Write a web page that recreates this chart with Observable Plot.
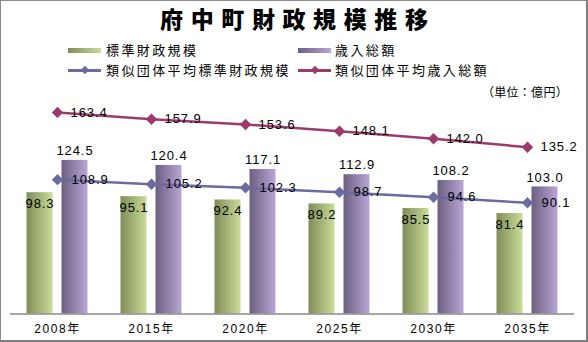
<!DOCTYPE html>
<html>
<head>
<meta charset="utf-8">
<script src="https://cdn.jsdelivr.net/npm/d3@7"></script>
<script src="https://cdn.jsdelivr.net/npm/@observablehq/plot@0.6"></script>
<style>
  html, body { margin: 0; padding: 0; background: #fff; }
  #wrap { position: relative; width: 588px; height: 342px; overflow: hidden; background: #fff;
          font-family: "Noto Sans CJK JP", "Liberation Sans", sans-serif; }
  #frame { position: absolute; left: 0; top: 0; width: 588px; height: 342px; box-sizing: border-box;
           border-top: 1px solid #8c8c8c; border-left: 1px solid #8c8c8c;
           border-right: 2px solid #7f7f7f; border-bottom: 2px solid #7f7f7f; pointer-events: none; }
  #plot { position: absolute; left: 0; top: 0; }
  .abs { position: absolute; white-space: nowrap; }
  #title { left: 0; width: 588px; top: 4px; height: 28px; line-height: 28px; text-align: center;
           font-size: 23px; font-weight: 900; letter-spacing: 7.6px; color: #000; text-indent: 7.6px; }
  .legtext { font-size: 13px; letter-spacing: 2.4px; line-height: 16px; height: 16px; color: #000; }
  .sw { position: absolute; height: 5px; }
  .ln { position: absolute; height: 3px; }
  .dm { position: absolute; width: 6px; height: 6px; transform: rotate(45deg); }
  #unit { font-size: 12px; letter-spacing: 0.3px; line-height: 14px; color: #000; }
</style>
</head>
<body>
<div id="wrap">
  <div id="plot"></div>
  <div id="title" class="abs">府中町財政規模推移</div>
  <div id="legend"></div>
  <div id="unit" class="abs"></div>
  <div id="frame"></div>
</div>
<script>
// ---- data ----
const years = ["2008", "2015", "2020", "2025", "2030", "2035"];
const yearSuffix = "年";
const standardScale = [98.3, 95.1, 92.4, 89.2, 85.5, 81.4];        // 標準財政規模
const totalRevenue = [124.5, 120.4, 117.1, 112.9, 108.2, 103.0];    // 歳入総額
const similarStandard = [108.9, 105.2, 102.3, 98.7, 94.6, 90.1];    // 類似団体平均標準財政規模
const similarRevenue = [163.4, 157.9, 153.6, 148.1, 142.0, 135.2];  // 類似団体平均歳入総額
const seriesNames = ["標準財政規模", "歳入総額", "類似団体平均標準財政規模", "類似団体平均歳入総額"];
const unitLabel = "（単位：億円）";

// ---- styles ----
const greenDark = "#7f8d58", greenLight = "#c9dc98";
const purpleDark = "#6c5f80", purpleLight = "#b9a6d6";
const blueLine = "#6b6b9f", maroonLine = "#9e3a6b";

const rows = years.map((y, i) => ({
  year: y,
  std: standardScale[i], rev: totalRevenue[i],
  simStd: similarStandard[i], simRev: similarRevenue[i]
}));

const numFont = "'Liberation Sans', Arial, 'Noto Sans CJK JP', sans-serif";
const pi = 1 - 26 / 94;

const chart = Plot.plot({
  width: 588,
  height: 342,
  marginLeft: 10,
  marginRight: 14,
  marginTop: 91.4,
  marginBottom: 28.5,
  style: { fontFamily: numFont, fontSize: "13px", color: "#000", background: "transparent", overflow: "visible" },
  x: { domain: years, paddingInner: pi, paddingOuter: pi / 2, label: null },
  y: { domain: [0, 180], axis: null },
  marks: [
    Plot.barY(rows, { x: "year", y: "std", dx: -17.5, fill: "url(#gGreen)" }),
    Plot.barY(rows, { x: "year", y: "rev", dx: 17.5, fill: "url(#gPurple)" }),
    Plot.ruleY([0], { stroke: "#8a8a8a", strokeWidth: 1.5 }),
    Plot.axisX({ tickSize: 0, tickPadding: 10, tickFormat: d => d + yearSuffix, fontSize: 12,
                 fill: "#000", label: null, className: "yearaxis" }),
    Plot.lineY(rows, { x: "year", y: "simStd", stroke: blueLine, strokeWidth: 2.5 }),
    Plot.lineY(rows, { x: "year", y: "simRev", stroke: maroonLine, strokeWidth: 2.5 }),
    Plot.dot(rows, { x: "year", y: "simStd", symbol: "diamond2", r: 4.2, fill: blueLine, stroke: blueLine }),
    Plot.dot(rows, { x: "year", y: "simRev", symbol: "diamond2", r: 4.2, fill: maroonLine, stroke: maroonLine }),
    Plot.text(rows, { x: "year", y: "std", dx: -17.5, dy: 11, text: d => d.std.toFixed(1), fill: "#000" }),
    Plot.text(rows, { x: "year", y: "rev", dx: 17.5, dy: -9.5, text: d => d.rev.toFixed(1), fill: "#000" }),
    Plot.text(rows, { x: "year", y: "simStd", dx: 14, textAnchor: "start", text: d => d.simStd.toFixed(1), fill: "#000" }),
    Plot.text(rows, { x: "year", y: "simRev", dx: 13, textAnchor: "start", text: d => d.simRev.toFixed(1), fill: "#000" })
  ]
});

// gradients
d3.select(chart).insert("defs", ":first-child").html(`
  <linearGradient id="gGreen" x1="0" y1="0" x2="1" y2="0">
    <stop offset="0" stop-color="${greenDark}"/><stop offset="1" stop-color="${greenLight}"/>
  </linearGradient>
  <linearGradient id="gPurple" x1="0" y1="0" x2="1" y2="0">
    <stop offset="0" stop-color="${purpleDark}"/><stop offset="1" stop-color="${purpleLight}"/>
  </linearGradient>`);
d3.select(chart).selectAll("text").style("letter-spacing", "0.9px");
d3.select(chart).selectAll(".yearaxis text").style("letter-spacing", "1.6px");
document.getElementById("plot").appendChild(chart);

// legend (HTML)
const leg = document.getElementById("legend");
function addText(txt, x, cy) {
  const d = document.createElement("div");
  d.className = "abs legtext";
  d.style.left = x + "px"; d.style.top = (cy - 8) + "px";
  d.textContent = txt; leg.appendChild(d);
}
function addSwatch(x, cy, dark, light) {
  const s = document.createElement("div");
  s.className = "sw";
  s.style.left = x + "px"; s.style.top = (cy - 2.5) + "px"; s.style.width = "33px";
  s.style.background = `linear-gradient(to right, ${dark}, ${light})`;
  leg.appendChild(s);
}
function addLine(x, cy, color) {
  const l = document.createElement("div");
  l.className = "ln";
  l.style.left = x + "px"; l.style.top = (cy - 1.5) + "px"; l.style.width = "33px"; l.style.background = color;
  leg.appendChild(l);
  const m = document.createElement("div");
  m.className = "dm";
  m.style.left = (x + 13.5) + "px"; m.style.top = (cy - 3) + "px"; m.style.background = color;
  leg.appendChild(m);
}
addSwatch(68, 50, greenDark, greenLight);
addText(seriesNames[0], 106, 50);
addSwatch(298, 50, purpleDark, purpleLight);
addText(seriesNames[1], 335, 50);
addLine(68, 70, blueLine);
addText(seriesNames[2], 106, 70);
addLine(298, 70, maroonLine);
addText(seriesNames[3], 335, 70);

const u = document.getElementById("unit");
u.textContent = unitLabel;
u.style.right = (588 - 568) + "px";
u.style.top = "85px";
</script>
</body>
</html>
